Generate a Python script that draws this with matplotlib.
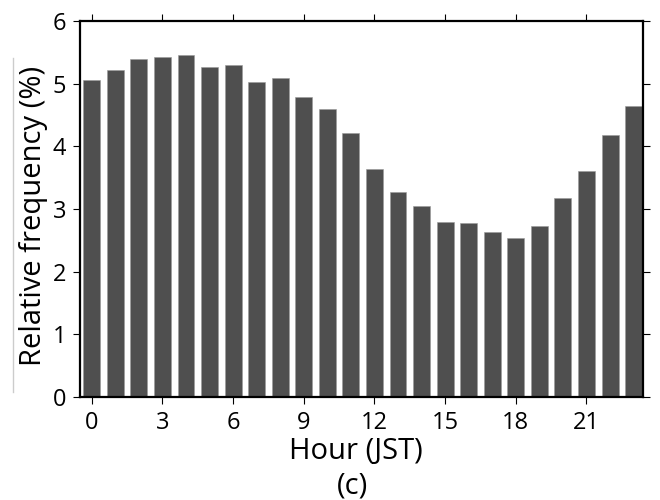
import matplotlib
matplotlib.use("Agg")
import matplotlib.pyplot as plt
from matplotlib.lines import Line2D

hours = list(range(24))
freq = [5.06, 5.22, 5.40, 5.43, 5.46, 5.26, 5.29, 5.02, 5.09, 4.79, 4.59, 4.21,
        3.64, 3.27, 3.04, 2.80, 2.77, 2.63, 2.53, 2.73, 3.17, 3.61, 4.18, 4.65]
xticks = [0, 3, 6, 9, 12, 15, 18, 21]
yticks = [0, 1, 2, 3, 4, 5, 6]

plt.rcParams['font.family'] = ['Open Sans', 'DejaVu Sans']

W, H = 660, 500
fig = plt.figure(figsize=(6.6, 5.0), dpi=100)
x0, x1, y0, y1 = 80, 643, 21, 397
ax = fig.add_axes([x0 / W, 1 - y1 / H, (x1 - x0) / W, (y1 - y0) / H])

ax.bar(hours, freq, width=0.72, color='#4f4f4f', edgecolor='#9a9a9a', linewidth=0.4, zorder=2)
ax.set_xlim(-0.5, 23.4)
ax.set_ylim(0, 6)
ax.set_xticks(xticks)
ax.set_yticks(yticks)
ax.tick_params(axis='both', direction='out', length=5, width=0.8, labelsize=17,
               top=True, right=True, labeltop=False, labelright=False)
ax.tick_params(axis='x', pad=5)
ax.tick_params(axis='y', pad=5)
for s in ax.spines.values():
    s.set_linewidth(1.6)

ax.set_xlabel('Hour (JST)', fontsize=21)
ax.set_ylabel('Relative frequency (%)', fontsize=21)
ax.xaxis.set_label_coords((356 - x0) / (x1 - x0), (y1 - 451) / (y1 - y0))
ax.xaxis.label.set_verticalalignment('center')
ax.yaxis.set_label_coords((34 - x0) / (x1 - x0), (y1 - 216) / (y1 - y0))
ax.yaxis.label.set_verticalalignment('center')
fig.text(353 / W, 1 - 486 / H, '(c)', fontsize=21, ha='center', va='center')

fig.add_artist(Line2D([13 / W, 13 / W], [1 - 58 / H, 1 - 392 / H], color='#cccccc', linewidth=1))

fig.savefig('out.png', dpi=100)
